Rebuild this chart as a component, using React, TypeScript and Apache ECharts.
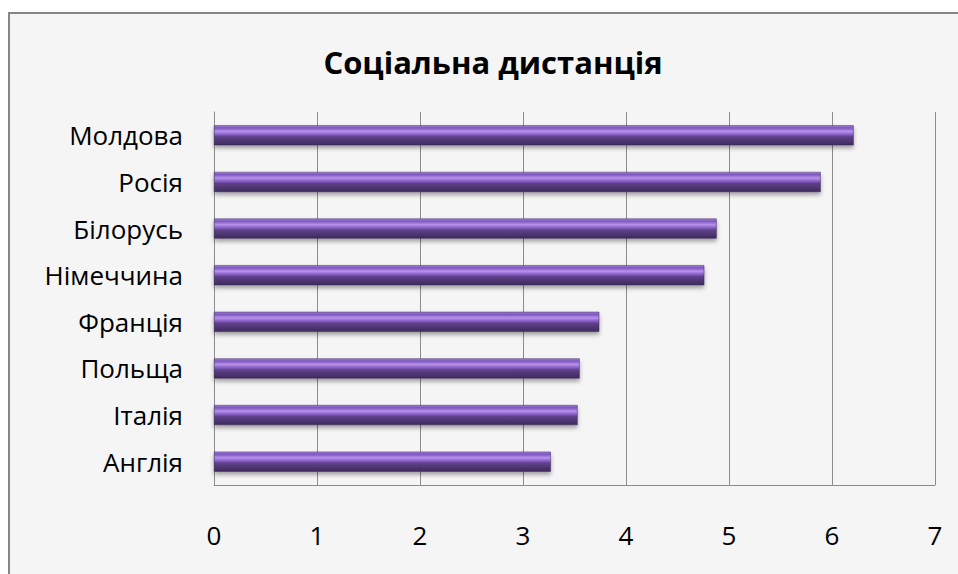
import React, { useEffect, useRef } from "react";
import * as echarts from "echarts";

const TITLE = "Соціальна дистанція";
const categories = ["Молдова", "Росія", "Білорусь", "Німеччина", "Франція", "Польща", "Італія", "Англія"];
const values = [6.21, 5.89, 4.88, 4.76, 3.74, 3.55, 3.53, 3.27];
const axisMin = 0;
const axisMax = 7;
const axisStep = 1;

const FONT = "'Open Sans', 'Noto Sans', sans-serif";

export default function App() {
  const ref = useRef<HTMLDivElement>(null);
  useEffect(() => {
    if (!ref.current) return;
    const chart = echarts.init(ref.current, undefined, { renderer: "svg" });
    const barColor = new echarts.graphic.LinearGradient(0, 0, 0, 1, [
      { offset: 0, color: "#a585dc" },
      { offset: 0.12, color: "#7c55bf" },
      { offset: 0.3, color: "#b892ea" },
      { offset: 0.45, color: "#8a60ca" },
      { offset: 0.58, color: "#5e4088" },
      { offset: 1, color: "#3e2a5c" },
    ]);
    chart.setOption({
      animation: false,
      backgroundColor: "#ffffff",
      graphic: [
        {
          type: "rect",
          shape: { x: 9, y: 13, width: 1000, height: 600 },
          style: { fill: "#f5f5f5", stroke: "#868686", lineWidth: 2 },
          z: -10,
          silent: true,
        },
      ],
      title: {
        text: TITLE,
        left: 488,
        top: 41,
        textAlign: "center",
        textStyle: { fontFamily: FONT, fontSize: 31, fontWeight: "bold", color: "#000" },
      },
      grid: { left: 214, right: 23, top: 112, bottom: 89, containLabel: false },
      xAxis: {
        type: "value",
        min: axisMin,
        max: axisMax,
        interval: axisStep,
        axisLine: { show: true, lineStyle: { color: "#8c8c8c", width: 1 } },
        axisTick: { show: false },
        splitLine: { show: true, lineStyle: { color: "#8c8c8c", width: 1 } },
        axisLabel: { margin: 37, fontFamily: FONT, fontSize: 26, color: "#000" },
      },
      yAxis: {
        type: "category",
        data: categories,
        inverse: true,
        axisLine: { show: true, lineStyle: { color: "#8c8c8c", width: 1 } },
        axisTick: { show: false },
        splitLine: { show: false },
        axisLabel: { margin: 31, fontFamily: FONT, fontSize: 26, color: "#000" },
      },
      series: [
        {
          type: "bar",
          data: values,
          barWidth: 20,
          itemStyle: {
            color: barColor,
            borderColor: "#3a2756",
            borderWidth: 0.5,
            shadowColor: "rgba(0,0,0,0.35)",
            shadowBlur: 4,
            shadowOffsetY: 3,
          },
        },
      ],
    });
    return () => chart.dispose();
  }, []);
  return (
    <div
      ref={ref}
      style={{ position: "fixed", left: 0, top: 0, width: 958, height: 574 }}
    />
  );
}
